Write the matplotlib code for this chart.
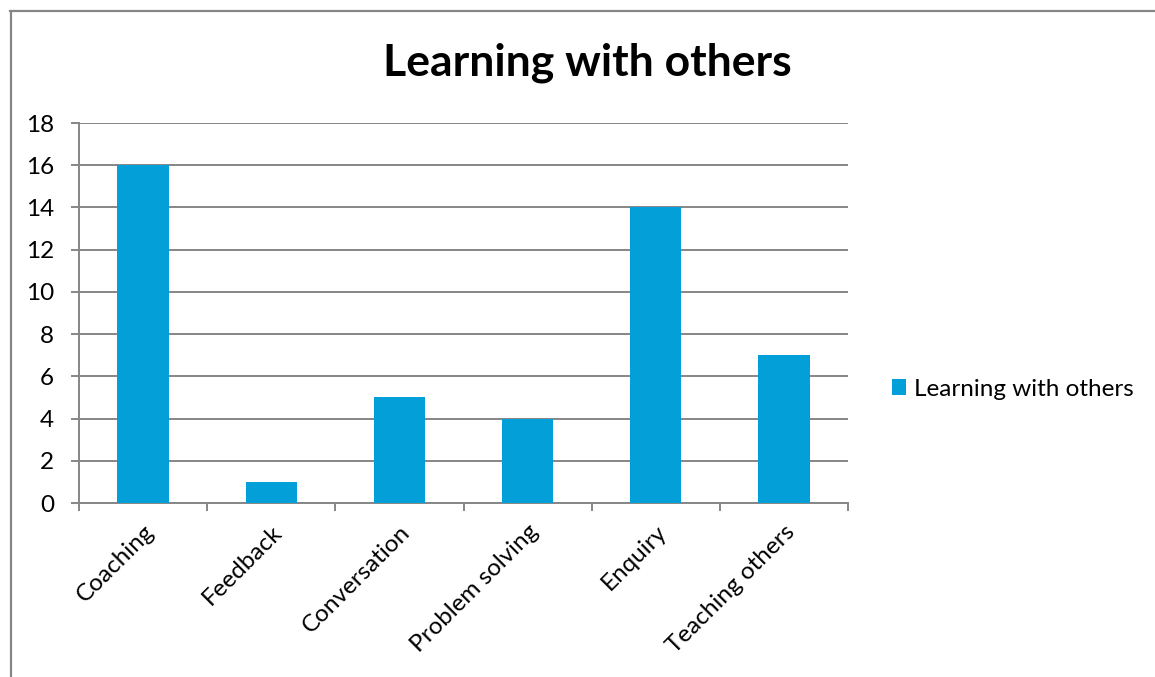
import matplotlib
matplotlib.use("Agg")
import matplotlib.pyplot as plt
import numpy as np
from matplotlib.lines import Line2D

categories = ["Coaching", "Feedback", "Conversation", "Problem solving", "Enquiry", "Teaching others"]
values = [16, 1, 5, 4, 14, 7]
series_name = "Learning with others"
yticks = [0, 2, 4, 6, 8, 10, 12, 14, 16, 18]

plt.rcParams['font.family'] = ['Lato', 'DejaVu Sans']
grey = '#868686'
blue = '#029FD9'

W, H = 1155, 677
fig = plt.figure(figsize=(W / 100, H / 100), dpi=100)
ax = fig.add_axes([79 / W, 1 - 503 / H, (848 - 79) / W, (503 - 123) / H])

x = np.arange(len(categories))
ax.bar(x, values, width=0.4, color=blue, label=series_name, zorder=3)

ax.set_xlim(-0.5, len(categories) - 0.5)
ax.set_ylim(0, 18)
ax.set_yticks(yticks)
ax.yaxis.grid(True, color=grey, linewidth=1.4, zorder=0)
ax.tick_params(axis='y', length=6, width=1.4, color=grey, labelsize=17.5, pad=12)

ax.set_xticks(x)
ax.set_xticklabels(categories, rotation=45, ha='right', rotation_mode='anchor', fontsize=17.5)
ax.tick_params(axis='x', which='major', length=0, pad=13)
ax.set_xticks(np.arange(-0.5, len(categories)), minor=True)
ax.tick_params(axis='x', which='minor', length=6, width=1.4, color=grey)

for s in ['top', 'right']:
    ax.spines[s].set_visible(False)
for s in ['left', 'bottom']:
    ax.spines[s].set_color(grey)
    ax.spines[s].set_linewidth(1.4)

fig.text(587 / W, 1 - 63 / H, "Learning with others", ha='center', va='center',
         fontsize=32, fontweight='bold')

fig.legend(loc='center left', bbox_to_anchor=(870 / W, 1 - 389 / H), frameon=False,
           fontsize=17.5, handlelength=0.6, handleheight=0.6, handletextpad=0.3)

# chart border (only top and left visible in the crop)
fig.add_artist(Line2D([10.5 / W, 10.5 / W], [0, 1 - 11 / H], color=grey, linewidth=1.6,
                      transform=fig.transFigure))
fig.add_artist(Line2D([10 / W, 1], [1 - 11 / H, 1 - 11 / H], color=grey, linewidth=1.6,
                      transform=fig.transFigure))

fig.savefig("out.png", dpi=100)
